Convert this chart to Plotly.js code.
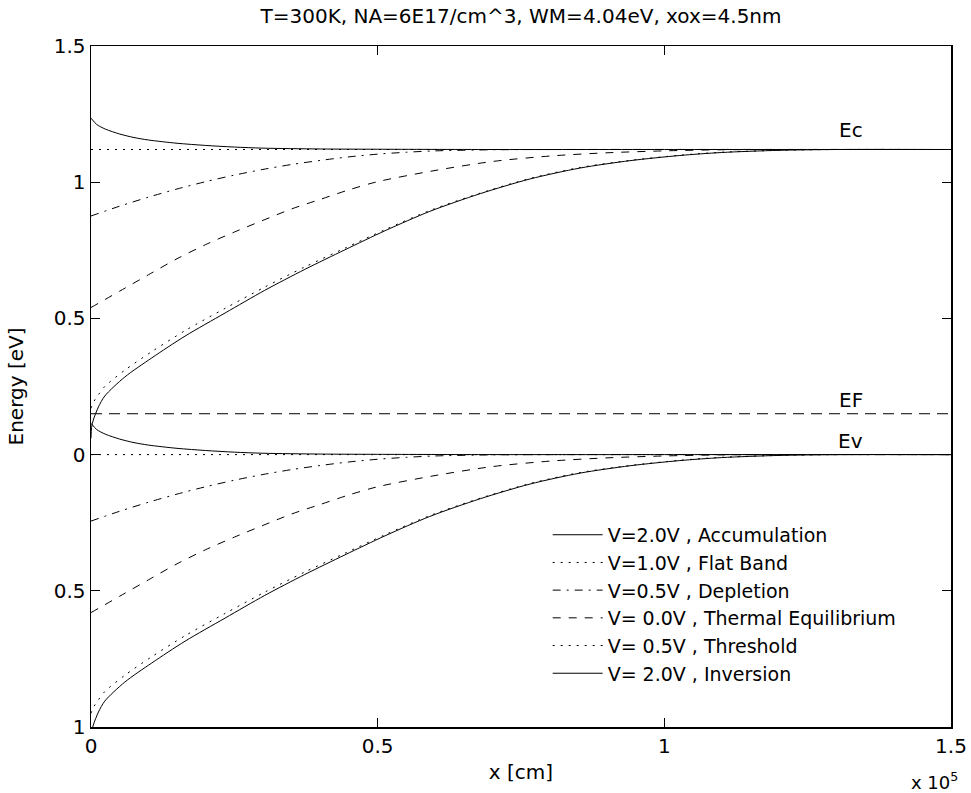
<!DOCTYPE html>
<html>
<head>
<meta charset="utf-8">
<script src="https://cdn.plot.ly/plotly-3.0.1.min.js"></script>
<style>html,body{margin:0;padding:0;background:#fff;}</style>
</head>
<body>
<div id="chart" style="width:971px;height:793px;"></div>
<script>
// ---- data ----
const legendNames = ["V=2.0V , Accumulation", "V=1.0V , Flat Band", "V=0.5V , Depletion",
                     "V= 0.0V , Thermal Equilibrium", "V= 0.5V , Threshold", "V= 2.0V , Inversion"];

const xAcc  = [0, 0.01, 0.025, 0.05, 0.075, 0.1, 0.15, 0.2, 0.25, 0.3, 0.4, 0.5, 0.7, 1.0, 1.5];
const ecAcc = [1.235, 1.212, 1.195, 1.177, 1.164, 1.155, 1.143, 1.135, 1.129, 1.125, 1.122, 1.121, 1.12, 1.12, 1.12];
const evAcc = [0.115, 0.092, 0.075, 0.057, 0.044, 0.035, 0.023, 0.015, 0.009, 0.005, 0.002, 0.001, 0, 0, 0];

const xFlat  = [0, 1.5];
const ecFlat = [1.12, 1.12];
const evFlat = [0, 0];

const xDep  = [0, 0.05, 0.1, 0.15, 0.2, 0.25, 0.3, 0.35, 0.4, 0.45, 0.5, 0.55, 0.6, 0.7, 0.8, 1.5];
const ecDep = [0.876, 0.912, 0.945, 0.975, 1.002, 1.026, 1.047, 1.065, 1.08, 1.093, 1.103, 1.11, 1.115, 1.119, 1.12, 1.12];
const evDep = [-0.244, -0.208, -0.175, -0.145, -0.118, -0.094, -0.073, -0.055, -0.04, -0.027, -0.017, -0.01, -0.005, -0.001, 0, 0];

const xThm  = [0, 0.05, 0.1, 0.15, 0.2, 0.25, 0.3, 0.35, 0.4, 0.45, 0.5, 0.6, 0.7, 0.8, 0.9, 1.0, 1.1, 1.2, 1.5];
const ecThm = [0.54, 0.60, 0.66, 0.719, 0.771, 0.817, 0.86, 0.902, 0.937, 0.972, 1.002, 1.043, 1.076, 1.096, 1.108, 1.115, 1.119, 1.12, 1.12];
const evThm = [-0.58, -0.52, -0.46, -0.401, -0.349, -0.303, -0.26, -0.218, -0.183, -0.148, -0.118, -0.077, -0.044, -0.024, -0.012, -0.005, -0.001, 0, 0];

const xThr  = [0, 0.005, 0.013, 0.024, 0.059, 0.106, 0.164, 0.234, 0.303, 0.373, 0.443, 0.513, 0.591, 0.679, 0.766, 0.853, 0.94, 1.027, 1.1, 1.2, 1.3, 1.5];
const ecThr = [0.17, 0.195, 0.22, 0.25, 0.31, 0.378, 0.455, 0.537, 0.615, 0.689, 0.758, 0.826, 0.896, 0.96, 1.014, 1.054, 1.08, 1.099, 1.11, 1.117, 1.12, 1.12];
const evThr = [-0.95, -0.925, -0.90, -0.87, -0.81, -0.742, -0.665, -0.583, -0.505, -0.431, -0.362, -0.294, -0.224, -0.16, -0.106, -0.066, -0.04, -0.021, -0.01, -0.003, 0, 0];

const xInv  = [0, 0.001, 0.004, 0.013, 0.024, 0.059, 0.106, 0.164, 0.234, 0.303, 0.373, 0.443, 0.513, 0.591, 0.679, 0.766, 0.853, 0.94, 1.027, 1.1, 1.2, 1.3, 1.5];
const ecInv = [0.06, 0.10, 0.127, 0.175, 0.215, 0.285, 0.355, 0.435, 0.52, 0.603, 0.68, 0.752, 0.822, 0.893, 0.958, 1.012, 1.052, 1.079, 1.098, 1.109, 1.117, 1.12, 1.12];
const evInv = [-1.06, -1.02, -0.993, -0.945, -0.905, -0.835, -0.765, -0.685, -0.60, -0.517, -0.44, -0.368, -0.298, -0.227, -0.162, -0.108, -0.068, -0.041, -0.022, -0.011, -0.003, 0, 0];

const xEF = [0, 1.5];
const yEF = [0.15, 0.15];

const xTickVals = [0, 0.5, 1, 1.5];
const xTickText = ["0", "0.5", "1", "1.5"];
const yTickVals = [-1, -0.5, 0, 0.5, 1, 1.5];
const yTickText = ["1", "0.5", "0", "0.5", "1", "1.5"];

// ---- styles ----
const FONT = "DejaVu Sans";
const dashes = ["solid", "2px,6px", "8px,6px,2px,6px", "8px,8px", "2px,6px", "solid"];
const xs  = [xAcc, xFlat, xDep, xThm, xThr, xInv];
const ecs = [ecAcc, ecFlat, ecDep, ecThm, ecThr, ecInv];
const evs = [evAcc, evFlat, evDep, evThm, evThr, evInv];

const traces = [];
for (let i = 0; i < 6; i++) {
  const line = {color: "black", width: 1, dash: dashes[i], shape: "spline", smoothing: 0.8};
  traces.push({x: xs[i], y: ecs[i], mode: "lines", name: legendNames[i], legendgroup: "g" + i,
               line: line, showlegend: true, hoverinfo: "skip"});
  traces.push({x: xs[i], y: evs[i], mode: "lines", name: legendNames[i], legendgroup: "g" + i,
               line: line, showlegend: false, hoverinfo: "skip"});
}
traces.push({x: xEF, y: yEF, mode: "lines", name: "EF", showlegend: false, hoverinfo: "skip",
             line: {color: "black", width: 1, dash: "11px,7px"}});

const axisCommon = {
  showline: true, linecolor: "black", linewidth: 1.5, mirror: "ticks",
  ticks: "inside", ticklen: 9, tickwidth: 1, tickcolor: "black",
  showgrid: false, zeroline: false, tickfont: {family: FONT, size: 20, color: "black"}
};

const layout = {
  width: 971, height: 793,
  margin: {l: 91, r: 20, t: 46, b: 66},
  paper_bgcolor: "white", plot_bgcolor: "white",
  font: {family: FONT, size: 20, color: "black"},
  title: {text: "T=300K, NA=6E17/cm^3, WM=4.04eV, xox=4.5nm", font: {family: FONT, size: 20, color: "black"},
          x: 0.5, xref: "paper", xanchor: "center", y: 1 - 16/793, yref: "container", yanchor: "middle"},
  xaxis: Object.assign({}, axisCommon, {range: [0, 1.5], tickmode: "array", tickvals: xTickVals, ticktext: xTickText,
          title: {text: "x [cm]", font: {family: FONT, size: 20, color: "black"}, standoff: 8}}),
  yaxis: Object.assign({}, axisCommon, {range: [-1, 1.5], tickmode: "array", tickvals: yTickVals, ticktext: yTickText,
          title: {text: "Energy [eV]", font: {family: FONT, size: 20, color: "black"}, standoff: 24}}),
  showlegend: true,
  legend: {x: 0.531, y: 0.31, xanchor: "left", yanchor: "top", bgcolor: "rgba(0,0,0,0)", borderwidth: 0,
           font: {family: FONT, size: 19, color: "black"}, itemwidth: 50, tracegroupgap: 0},
  annotations: [
    {x: 1.325, y: 1.19, xref: "x", yref: "y", text: "Ec", showarrow: false, font: {family: FONT, size: 20}},
    {x: 1.325, y: 0.20, xref: "x", yref: "y", text: "EF", showarrow: false, font: {family: FONT, size: 20}},
    {x: 1.325, y: 0.05, xref: "x", yref: "y", text: "Ev", showarrow: false, font: {family: FONT, size: 20}},
    {x: 0.981, y: -0.079, xref: "paper", yref: "paper", text: "x 10<sup>5</sup>", showarrow: false,
     xanchor: "center", yanchor: "middle", font: {family: FONT, size: 18}}
  ]
};

Plotly.newPlot("chart", traces, layout, {displayModeBar: false, staticPlot: true});
</script>
</body>
</html>
